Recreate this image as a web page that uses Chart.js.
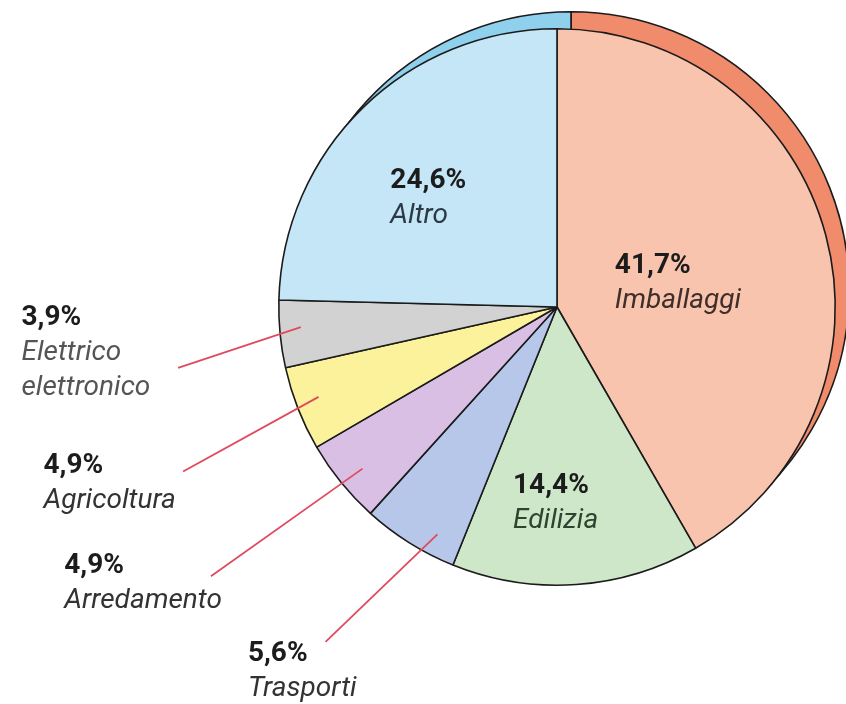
<!DOCTYPE html>
<html>
<head>
<meta charset="utf-8">
<script src="https://cdn.jsdelivr.net/npm/chart.js@4"></script>
<style>
  html, body { margin: 0; padding: 0; background: #fff; }
  #wrap { width: 846px; height: 704px; position: relative; }
</style>
</head>
<body>
<div id="wrap"><canvas id="pieChart"></canvas></div>
<script>
// data, clockwise from 12 o'clock
const categories = ['Imballaggi', 'Edilizia', 'Trasporti', 'Arredamento', 'Agricoltura', ['Elettrico', 'elettronico'], 'Altro'];
const shares = [41.7, 14.4, 5.6, 4.9, 4.9, 3.9, 24.6];
const shareLabels = ['41,7%', '14,4%', '5,6%', '4,9%', '4,9%', '3,9%', '24,6%'];

const fillColors = ['#f9c4ad', '#cfe7c9', '#b7c7ea', '#d9bfe4', '#fbf29b', '#d2d2d3', '#c5e6f7'];
const rimColors  = ['#f08b6b', '#cfe7c9', '#b7c7ea', '#d9bfe4', '#fbf29b', '#d2d2d3', '#8fd0ec'];
const nameColors = ['#3f2e2a', '#2f4330', '#333', '#333', '#333', '#555', '#2c3a46'];

// label placement, in units of the pie radius from the centre
// [x of text, baseline of the percentage]
const labelPos = [
  [0.208, -0.122],
  [-0.158, 0.667],
  [-1.111, 1.272],
  [-1.771, 0.957],
  [-1.846, 0.595],
  [-1.925, 0.064],
  [-0.599, -0.427]
];
// red leader lines: inner and outer end (same units)
const leaderStart = [null, null, [-0.430, 0.817], [-0.699, 0.581], [-0.857, 0.323], [-0.921, 0.072], null];
const leaderEnd   = [null, null, [-0.832, 1.204], [-1.244, 0.968], [-1.344, 0.591], [-1.362, 0.219], null];

const FONT = 'Roboto, "Open Sans", sans-serif';

// darker "thickness" drawn behind the pie, shifted up and right
const rimPlugin = {
  id: 'rim',
  beforeDatasetsDraw(chart) {
    const ctx = chart.ctx;
    const arcs = chart.getDatasetMeta(0).data;
    ctx.save();
    ctx.translate(14, -17);
    arcs.forEach((a, i) => {
      const p = a.getProps(['x', 'y', 'startAngle', 'endAngle', 'outerRadius'], true);
      ctx.beginPath();
      ctx.moveTo(p.x, p.y);
      ctx.arc(p.x, p.y, p.outerRadius, p.startAngle, p.endAngle);
      ctx.closePath();
      ctx.fillStyle = rimColors[i];
      ctx.fill();
      ctx.lineWidth = 1.6;
      ctx.strokeStyle = '#1b1b1b';
      ctx.stroke();
    });
    ctx.restore();
  }
};

const labelPlugin = {
  id: 'sliceLabels',
  afterDatasetsDraw(chart) {
    const ctx = chart.ctx;
    const arcs = chart.getDatasetMeta(0).data;
    ctx.save();
    arcs.forEach((a, i) => {
      const p = a.getProps(['x', 'y', 'outerRadius'], true);
      const R = p.outerRadius;
      if (leaderStart[i]) {
        ctx.beginPath();
        ctx.moveTo(p.x + leaderStart[i][0] * R, p.y + leaderStart[i][1] * R);
        ctx.lineTo(p.x + leaderEnd[i][0] * R, p.y + leaderEnd[i][1] * R);
        ctx.strokeStyle = '#df4b5c';
        ctx.lineWidth = 1.8;
        ctx.stroke();
      }
      const lx = p.x + labelPos[i][0] * R;
      let by = p.y + labelPos[i][1] * R;
      ctx.textAlign = 'left';
      ctx.textBaseline = 'alphabetic';
      ctx.fillStyle = '#1c1c1c';
      ctx.font = 'bold 28px ' + FONT;
      ctx.fillText(shareLabels[i], lx, by);
      const names = Array.isArray(categories[i]) ? categories[i] : [categories[i]];
      ctx.font = 'italic 400 28px ' + FONT;
      ctx.fillStyle = nameColors[i];
      names.forEach(n => {
        by += 35;
        ctx.fillText(n, lx, by);
      });
    });
    ctx.restore();
  }
};

new Chart(document.getElementById('pieChart'), {
  type: 'pie',
  data: {
    labels: categories,
    datasets: [{
      data: shares,
      backgroundColor: fillColors,
      borderColor: '#1b1b1b',
      borderWidth: 1.6,
      borderAlign: 'center'
    }]
  },
  options: {
    responsive: true,
    maintainAspectRatio: false,
    animation: false,
    layout: { padding: { left: 278, right: 10, top: 28, bottom: 118 } },
    plugins: {
      legend: { display: false },
      tooltip: { enabled: false }
    }
  },
  plugins: [rimPlugin, labelPlugin]
});
</script>
</body>
</html>
